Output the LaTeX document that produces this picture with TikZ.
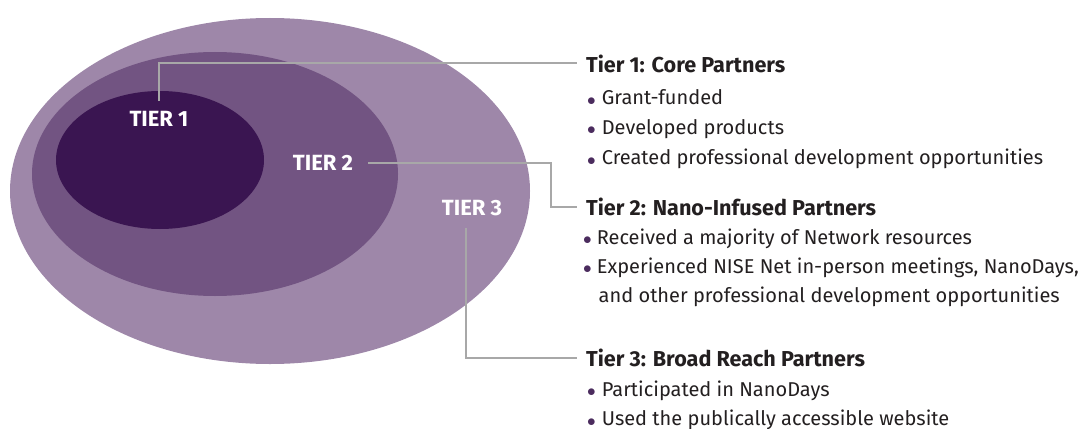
\documentclass[tikz,border=0pt]{standalone}
\usepackage{fontspec}
\setmainfont{Fira Sans}
\usetikzlibrary{shapes.geometric,calc}
\definecolor{tthree}{HTML}{9E87A9}
\definecolor{ttwo}{HTML}{725482}
\definecolor{tone}{HTML}{3A1551}
\definecolor{linegray}{HTML}{A8A8A8}
\definecolor{txt}{HTML}{231F20}
\definecolor{bulcol}{HTML}{4B2C5E}
\newcommand{\mybul}{{\color{bulcol}\fontsize{16}{16}\selectfont\raisebox{-0.7pt}{$\bullet$}}\hspace{6pt}}
\newcommand{\mybulT}{{\color{bulcol}\fontsize{16}{16}\selectfont\raisebox{-0.7pt}{$\bullet$}}\hspace{5pt}}
\tikzset{
  region/.style={ellipse, draw=none, inner sep=0pt},
  tierlab/.style={text=white, font=\fontsize{22}{24}\selectfont\bfseries, inner sep=0pt},
  head/.style={anchor=base west, inner sep=0pt, text=txt, font=\fontsize{21.6}{24}\selectfont\bfseries},
  item/.style={anchor=base west, inner sep=0pt, text=txt, font=\fontsize{20}{24}\selectfont},
  conn/.style={draw=linegray, line width=2pt}
}
\begin{document}
\begin{tikzpicture}[x=1pt,y=-1pt]
\useasboundingbox (0,0) rectangle (1091,428);
\node[region, fill=tthree, minimum width=520pt, minimum height=346pt] (t3) at (270,191) {};
\node[region, fill=ttwo, minimum width=366pt, minimum height=244pt] (t2) at (215,174) {};
\node[region, fill=tone, minimum width=208pt, minimum height=138pt] (t1) at (160,160) {};

\node[tierlab] (l1) at (159,119) {TIER 1};
\node[tierlab] (l2) at (323,163) {TIER 2};
\node[tierlab] (l3) at (472,208) {TIER 3};

\node[head] (h1) at (586,72) {Tier 1: Core Partners};
\node[item] (b11) at (587,104.5) {\mybul Grant-funded};
\node[item] (b12) at (587,134) {\mybul Developed products};
\node[item] (b13) at (587,164.5) {\mybul Created professional development opportunities};

\node[head] (h2) at (586,215.5) {Tier 2: Nano-Infused Partners};
\node[item] (b21) at (583,244) {\mybulT Received a majority of Network resources};
\node[item] (b22) at (583,273) {\mybulT Experienced NISE Net in-person meetings, NanoDays,};
\node[item] (b23) at (598.5,302) {and other professional development opportunities};

\node[head] (h3) at (586,366.5) {Tier 3: Broad Reach Partners};
\node[item] (b31) at (587,396) {\mybul Participated in NanoDays};
\node[item] (b32) at (587,425.5) {\mybul Used the publically accessible website};

\draw[conn] ([yshift=10pt]l1.north) |- ([xshift=-9pt]h1.west);
\draw[conn] ([xshift=15pt]l2.east) -| ($(h2.west)+(-35,0)$) -- ([xshift=-9pt]h2.west);
\draw[conn] ([xshift=-6pt,yshift=-12pt]l3.south) |- ([xshift=-9pt]h3.west);
\end{tikzpicture}
\end{document}
